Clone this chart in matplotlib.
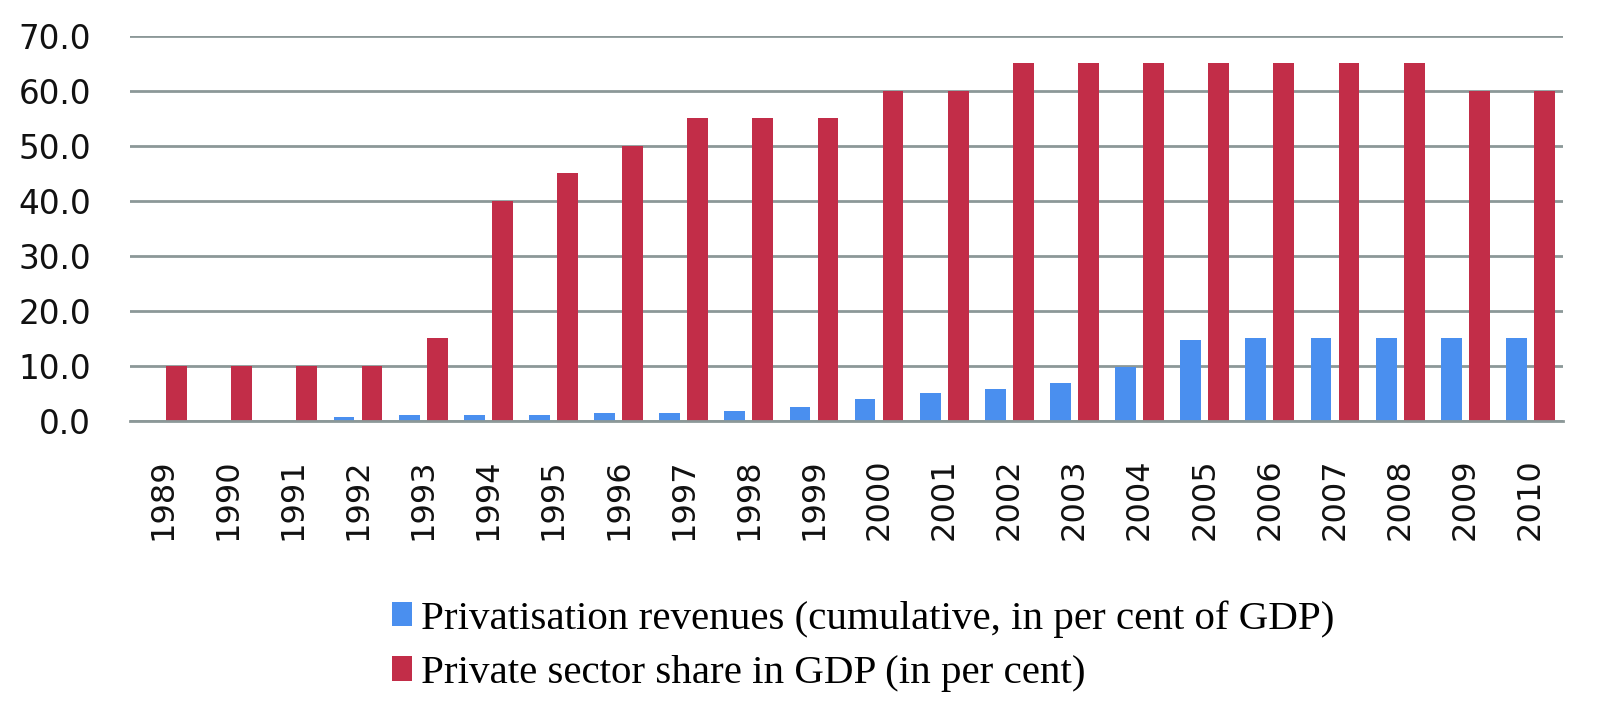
import matplotlib
matplotlib.use("Agg")
import matplotlib.pyplot as plt
import numpy as np
from matplotlib.patches import Patch

years = [str(y) for y in range(1989, 2011)]
privatisation_revenues = [0.0, 0.0, 0.0, 0.8, 1.1, 1.1, 1.1, 1.5, 1.5, 1.8, 2.5,
                          4.0, 5.1, 5.8, 6.9, 9.8, 14.7, 15.1, 15.1, 15.1, 15.1, 15.1]
private_sector_share = [10, 10, 10, 10, 15, 40, 45, 50, 55, 55, 55,
                        60, 60, 65, 65, 65, 65, 65, 65, 65, 60, 60]
yticks = [0, 10, 20, 30, 40, 50, 60, 70]
labels = ["Privatisation revenues (cumulative, in per cent of GDP)",
          "Private sector share in GDP (in per cent)"]

BLUE = "#4A8FEF"
RED = "#C22D48"
GRID = "#8C9898"

fig = plt.figure(figsize=(16, 7.2), dpi=100)
ax = fig.add_axes([130/1600, 1-421/720, (1563-130)/1600, (421-35.7)/720])

x = np.arange(len(years))
w = 0.32
off = 0.215
ax.bar(x - off, privatisation_revenues, width=w, color=BLUE, zorder=3)
ax.bar(x + off, private_sector_share, width=w, color=RED, zorder=3)

ax.set_xlim(-0.5, len(years) - 0.5)
ax.set_ylim(0, 70)
ax.set_yticks(yticks)
ax.set_yticklabels([f"{v:.1f}" for v in yticks], fontsize=23.5, family="DejaVu Sans", color="#111111")
ax.set_xticks(x)
ax.set_xticklabels(years, rotation=90, fontsize=23, family="DejaVu Sans", color="#111111")
ax.tick_params(axis="y", length=0, pad=28)
ax.tick_params(axis="x", length=0, pad=27)
ax.grid(axis="y", color=GRID, linewidth=2, zorder=0)
for s in ["top", "right", "left"]:
    ax.spines[s].set_visible(False)
ax.spines["bottom"].set_color(GRID)
ax.spines["bottom"].set_linewidth(2)
ax.spines["bottom"].set_zorder(4)

handles = [Patch(facecolor=BLUE), Patch(facecolor=RED)]
fig.legend(handles, labels, loc="upper left", bbox_to_anchor=(392/1600, 1-600/720),
           frameon=False, prop={"family": "Liberation Serif", "size": 29.5},
           handlelength=0.5, handleheight=0.55, handletextpad=0.2,
           labelspacing=0.42, borderaxespad=0, borderpad=0)

fig.savefig("out.png", dpi=100, facecolor="white")
